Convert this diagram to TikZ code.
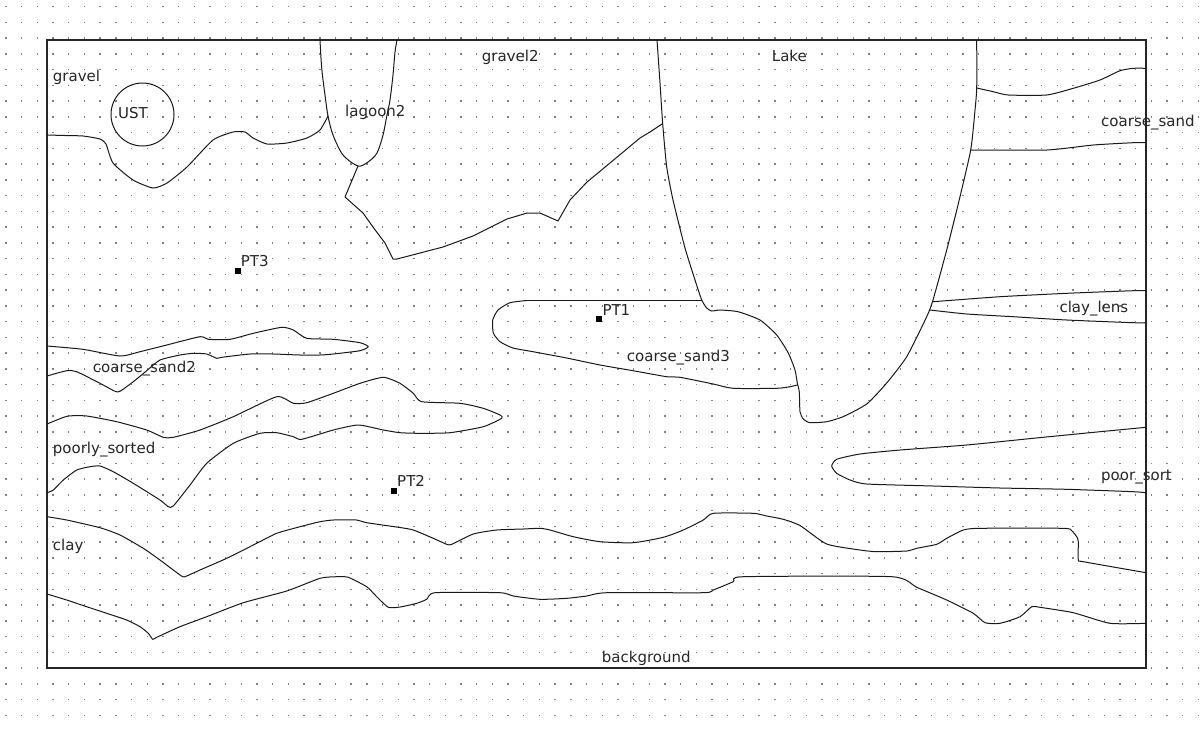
\documentclass[tikz,border=0pt]{standalone}
\usepackage{fontspec}
\setmainfont{DejaVu Sans}
\begin{document}
\begin{tikzpicture}[x=1pt,y=-1pt,
  bound/.style={line width=1pt, black!90, line join=round, line cap=round},
  frame/.style={line width=1.3pt, black!85},
  sm/.style={smooth, tension=0.35},
  lbl/.style={anchor=base west, inner sep=0pt, font=\fontsize{15}{18}\selectfont, text=black!85},
  pt/.style={fill=black, minimum size=6pt, inner sep=0pt, draw=none}]
\fill[white] (0,0) rectangle (1201,732);
\useasboundingbox (0,0) rectangle (1201,732);
% dot grid
\foreach \i in {0,...,76}{
  \foreach \j in {0,...,45}{
    \fill[black!50] ({6+15.69*\i-0.7},{8+15.75*\j-0.7}) rectangle +(1.4,-1.4);
  }
}
% model frame
\draw[frame] (47,40) rectangle (1146,668);

% gravel / lower boundary
\draw[bound] plot[sm] coordinates {(47,135) (65,135.5) (83,136) (100,139) (106,144) (113,163) (133,180) (153,188) (167,183) (187,167) (213,140) (233,132) (245,132) (253,138) (267,144) (287,143) (307,138) (320,130) (328,116)};
% UST
\draw[bound] (142.5,114.5) circle[radius=31.5];
% lagoon2
\draw[bound] plot[smooth, tension=0.5] coordinates {(320,40) (321.7,68) (325,95) (328,116) (333,135) (343,155) (358,166) (368,162) (377,153) (383,135) (387,115) (390,100) (393,75) (395,52) (397,40)};
% gravel2 lower boundary
\draw[bound] (358,166) -- (345,197) -- (363,213) -- (373,227) -- (385,243) -- (393,259) -- (397,259) -- (443,247) -- (473,236) -- (487,229) -- (507,219) -- (527,213) -- (540,213) -- (558,221) -- (570,200) -- (587,182) -- (610,163) -- (640,138) -- (650,132) -- (662,124);
% Lake
\draw[bound] plot[sm] coordinates {(657,40) (660,83) (662.7,124) (666.7,167) (673,200) (685,248) (695,280) (701.7,300) (706.7,308) (711.7,311) (720,310) (738,311.7) (760,320) (776.7,335) (788.3,353) (795,370) (797.3,383) (799.3,392) (800,411.7) (803.3,419) (810,422.7) (826.7,421.7) (843,416.7) (866.7,404) (886.7,383) (906.7,356.7) (926.7,316.7) (933,300) (946.7,250) (958,205) (970.7,150) (975,110) (976.7,88) (976.7,40)};
% coarse_sand3
\draw[bound] (701.7,300.5) -- (526.7,300.5);
\draw[bound] plot[sm] coordinates {(526.7,300.5) (510,302.7) (498,310) (492.7,320) (493.3,333) (500,341.7) (513,348) (533,351.7) (566.7,358) (600,365) (633,370.7) (666.7,376.7) (680,377.3) (713.3,384) (733.3,388.3) (776.7,388.3) (790,386.7) (797.3,385)};
% coarse_sand
\draw[bound] plot[sm] coordinates {(976.7,88) (993.3,91.7) (1008.3,95) (1046.7,95) (1073.3,88.3) (1100,80) (1120,70.7) (1133.3,68.3) (1146,68.3)};
\draw[bound] plot[sm] coordinates {(970.7,150) (1046.7,150) (1093.3,145) (1133.3,142.7) (1146,142.7)};
% clay_lens
\draw[bound] plot[sm] coordinates {(933,301.7) (1000,296.7) (1066.7,293.3) (1133.3,290.7) (1146,290.7)};
\draw[bound] plot[sm] coordinates {(930,310) (966.7,314) (1013.3,316.7) (1066.7,320) (1133.3,322.7) (1146,322.7)};
% poor_sort
\draw[bound] plot[sm] coordinates {(1146,427.3) (1100,431.7) (1033,438.3) (966.7,445) (900,450) (860,454) (836.7,459.3) (831.7,466) (836.7,473.3) (850,480) (866.7,484) (933.3,486) (1000,488) (1066.7,489.3) (1133.3,491.7) (1146,492.7)};
% coarse_sand2
\draw[bound] plot[sm] coordinates {(47,346) (83,349.3) (120,356) (140,351.7) (166.7,345) (200,336.7) (208.3,339.3) (230,339.3) (253.3,333.3) (281.7,327.3) (293.3,330) (306.7,338.3) (333.3,339.3) (360,342.7) (368.3,346.7) (360,350.7) (333.3,354) (320,355) (300,355) (273.3,354) (250,354) (221.7,357.3) (216.7,358.3) (206.7,354) (193.3,353.3) (180,355) (160,360) (146.7,370.7) (133.3,381.7) (120,391.3) (115,391.3) (100,383.3) (76.7,371.7) (66.7,370.7) (47,376)};
% poorly_sorted
\draw[bound] plot[sm] coordinates {(47,424) (56.7,420) (68.3,416) (86.7,416) (116.7,421.7) (146.7,430) (163.3,437.3) (173.3,437.3) (200,430) (233.3,416.7) (276.7,396.7) (293.3,403.3) (306.7,402.7) (333.3,393.3) (360,383.3) (383.3,377.3) (400,383.3) (413.3,393.3) (421.7,401.7) (460,403.3) (483.3,408.3) (500,415) (501.7,418.3) (483.3,426.7) (450,432.7) (420,433.3) (400,432.7) (383.3,430) (358.3,425) (333.3,430) (301.7,439.3) (293.3,436.7) (276.7,432.7) (260,433.3) (233.3,443.3) (206.7,463.3) (190,485) (173.3,506) (168.3,506.7) (160,500) (133.3,483.3) (113.3,471.7) (100,466) (90,466.7) (76.7,470) (63.3,480) (53.3,490) (47,492.7)};
% clay upper boundary
\draw[bound] plot[sm] coordinates {(47,516.7) (66.7,520) (100,527.7) (120,535) (143.3,548.3) (160,560) (173.3,570) (182.7,576.7) (186.7,576) (200,570) (226.7,558.3) (256.7,543.3) (276.7,533.3) (300,526.7) (320,521.7) (333.3,520) (356.7,520) (366.7,522.7) (400,527.5) (413.3,530) (433.3,538.3) (446.7,544.3) (451.7,544.3) (473.3,534) (496.7,530) (523.3,529) (540,528.3) (550,530) (573.3,536.7) (600,541.7) (633.3,542.7) (663.3,537.3) (683.3,530) (703.3,520) (713.3,513.3) (753.3,513.3) (766.7,516) (783.3,519.3) (800,525.5) (826.7,544) (860,550) (876.7,551.7) (906.7,551) (916.7,548.3) (936.7,544.3) (946.7,538.3) (963.3,530) (980,528.3) (1063.3,528.3) (1071.7,530.7) (1076.7,536.7) (1078.3,541.7) (1078.3,560) (1083.3,561.7) (1146,572.7)};
% clay lower boundary
\draw[bound] plot[sm] coordinates {(47,594) (66.7,600) (86.7,606.7) (106.7,613.3) (126.7,620) (140,626.7) (148.3,633.3) (152.7,639.3) (156.7,637.3) (180,626.7) (206.7,616.7) (243.3,602.7) (286.7,591) (320,578.3) (336.7,576.7) (348.3,577.3) (366.7,586.7) (376.7,596.7) (388.3,607.3) (400,607) (416.7,603.3) (426.7,599.3) (435,592.7) (500,592.7) (513.3,596) (540,599.3) (566.7,598.3) (586.7,596) (606.7,592.7) (703.3,592.7) (713.3,590) (733.3,581.7) (743.3,576.7) (891.7,576.7) (916.7,587.3) (946.7,600) (973.3,613.3) (985,622.7) (1000,623.3) (1020,616.7) (1031.7,606.7) (1040,607.3) (1073.3,612.7) (1110,623.3) (1146,623.3)};

% observation points
\node[pt] (pt3) at (237.7,270.7) {};
\node[pt] (pt1) at (599,319) {};
\node[pt] (pt2) at (393.5,491) {};

% region labels
\node[lbl] (lgravel) at (52.7,81.5) {gravel};
\node[lbl] (lust) at (118,118.5) {UST};
\node[lbl] (llagoon) at (345,116.7) {lagoon2};
\node[lbl] (lgravel2) at (481.7,61) {gravel2};
\node[lbl] (llake) at (771.7,61) {Lake};
\node[lbl] (lcsand) at (1101,126.3) {coarse\_sand};
\node[lbl] (lpt3) at (240.7,266.7) {PT3};
\node[lbl] (lpt1) at (602.3,315) {PT1};
\node[lbl] (lpt2) at (397,486) {PT2};
\node[lbl] (lcsand3) at (626.7,361.3) {coarse\_sand3};
\node[lbl] (lclaylens) at (1059.3,312.3) {clay\_lens};
\node[lbl] (lcsand2) at (92.7,372.3) {coarse\_sand2};
\node[lbl] (lpoorly) at (52.7,453.7) {poorly\_sorted};
\node[lbl] (lpoorsort) at (1101,480.7) {poor\_sort};
\node[lbl] (lclay) at (52.7,550) {clay};
\node[lbl] (lbg) at (601.7,662.7) {background};
\end{tikzpicture}
\end{document}
